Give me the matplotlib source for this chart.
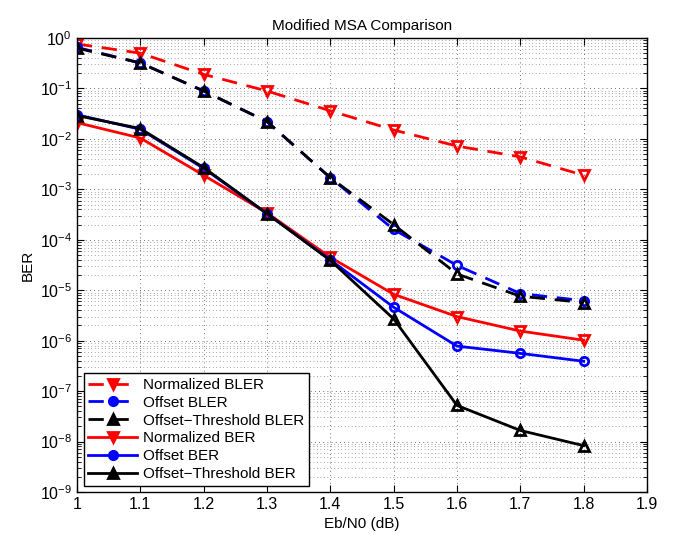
import matplotlib
matplotlib.use("Agg")
import matplotlib.pyplot as plt
import numpy as np
from matplotlib.ticker import LogLocator, NullFormatter

plt.rcParams['font.family'] = ['Liberation Sans', 'DejaVu Sans']
plt.rcParams['mathtext.fontset'] = 'custom'
plt.rcParams['mathtext.rm'] = 'Liberation Sans'

ebn0 = [1.0, 1.1, 1.2, 1.3, 1.4, 1.5, 1.6, 1.7, 1.8]

norm_bler = [0.76, 0.5, 0.19, 0.089, 0.036, 0.015, 0.0072, 0.0044, 0.0019]
offset_bler = [0.65, 0.32, 0.089, 0.022, 0.0017, 1.6e-4, 3.1e-5, 8.6e-6, 6.2e-6]
othr_bler = [0.63, 0.32, 0.089, 0.022, 0.0017, 2.0e-4, 2.1e-5, 7.6e-6, 5.7e-6]
norm_ber = [0.021, 0.0104, 0.0019, 3.4e-4, 4.5e-5, 8.3e-6, 3.0e-6, 1.55e-6, 1.02e-6]
offset_ber = [0.030, 0.0155, 0.0026, 3.3e-4, 4.0e-5, 4.6e-6, 7.8e-7, 5.6e-7, 3.9e-7]
othr_ber = [0.029, 0.016, 0.0027, 3.3e-4, 3.9e-5, 2.7e-6, 5.2e-8, 1.66e-8, 8.3e-9]

labels = ["Normalized BLER", "Offset BLER", "Offset\u2212Threshold BLER",
          "Normalized BER", "Offset BER", "Offset\u2212Threshold BER"]
xticks = [1, 1.1, 1.2, 1.3, 1.4, 1.5, 1.6, 1.7, 1.8, 1.9]
xticklabels = ["1", "1.1", "1.2", "1.3", "1.4", "1.5", "1.6", "1.7", "1.8", "1.9"]

fig = plt.figure(figsize=(6.85, 5.52), dpi=100)
ax = fig.add_axes([0.1124, 0.1087, 0.8321, 0.8225])

lw = 2.0
ms = 7
dash = (5.5, 3.5)
ax.semilogy(ebn0, norm_bler, color='red', ls='--', lw=lw, marker='v', ms=ms, mfc='none', mec='red', mew=2, label=labels[0], dashes=dash)
ax.semilogy(ebn0, offset_bler, color='blue', ls='--', lw=lw, marker='o', ms=6, mfc='none', mec='blue', mew=2, label=labels[1], dashes=dash)
ax.semilogy(ebn0, othr_bler, color='black', ls='--', lw=lw, marker='^', ms=ms, mfc='none', mec='black', mew=2, label=labels[2], dashes=dash)
ax.semilogy(ebn0, norm_ber, color='red', ls='-', lw=lw, marker='v', ms=ms, mfc='none', mec='red', mew=2, label=labels[3])
ax.semilogy(ebn0, offset_ber, color='blue', ls='-', lw=lw, marker='o', ms=6, mfc='none', mec='blue', mew=2, label=labels[4])
ax.semilogy(ebn0, othr_ber, color='black', ls='-', lw=lw, marker='^', ms=ms, mfc='none', mec='black', mew=2, label=labels[5])

ax.set_xlim(1, 1.9)
ax.set_ylim(1e-9, 1)
ax.set_xticks(xticks)
ax.set_xticklabels(xticklabels)
ax.yaxis.set_major_locator(LogLocator(base=10, numticks=12))
ax.yaxis.set_minor_locator(LogLocator(base=10, subs=np.arange(2, 10), numticks=12))
ax.yaxis.set_minor_formatter(NullFormatter())

ax.grid(True, which='major', color='#444444', ls=(0, (1, 4)), lw=0.6)
ax.grid(True, which='minor', axis='y', color='#555555', ls=(0, (1, 4)), lw=0.5)

ax.tick_params(which='both', direction='in', top=True, right=True, labelsize=11.5)
ax.tick_params(which='major', length=5)
ax.tick_params(which='minor', length=3)
for s in ax.spines.values():
    s.set_linewidth(1.0)

ax.set_title("Modified MSA Comparison", fontsize=11)
ax.set_xlabel("Eb/N0 (dB)", fontsize=11)
ax.set_ylabel("BER", fontsize=11)

leg = ax.legend(loc='lower left', bbox_to_anchor=(0.012, 0.014), fontsize=11,
                frameon=True, fancybox=False, edgecolor='black', framealpha=1,
                handlelength=3.2, borderpad=0.3, labelspacing=0.25, handletextpad=0.4,
                borderaxespad=0)
leg.get_frame().set_linewidth(1.0)
for h in leg.legend_handles:
    h.set_markerfacecolor(h.get_color())

fig.savefig("out.png", dpi=100)
